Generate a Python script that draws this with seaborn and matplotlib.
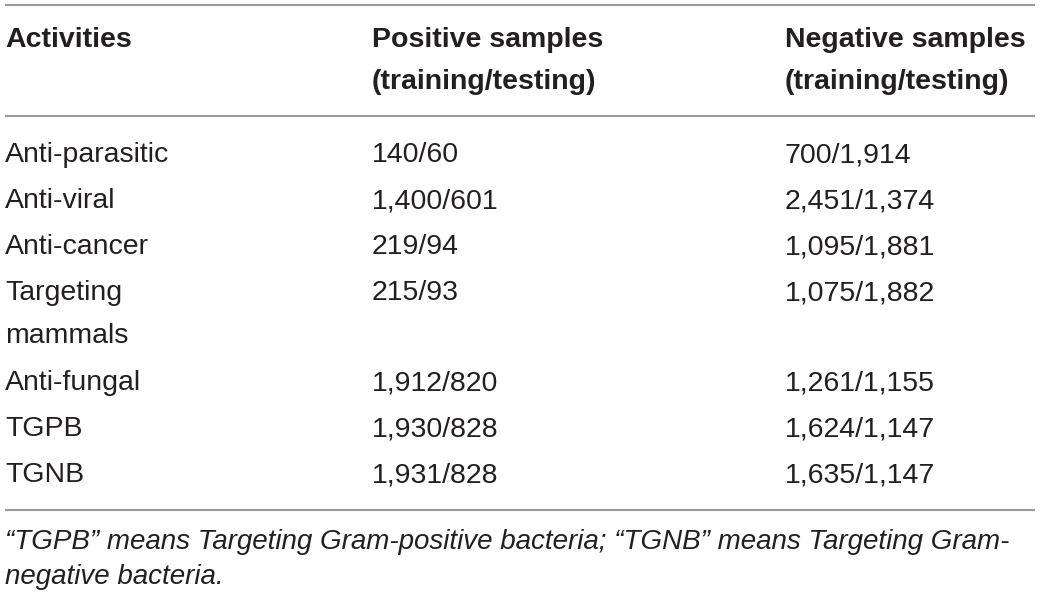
import seaborn as sns
import matplotlib.pyplot as plt

# table contents
activities = ["Anti-parasitic", "Anti-viral", "Anti-cancer", "Targeting\nmammals",
              "Anti-fungal", "TGPB", "TGNB"]
positive = ["140/60", "1,400/601", "219/94", "215/93", "1,912/820", "1,930/828", "1,931/828"]
negative = ["700/1,914", "2,451/1,374", "1,095/1,881", "1,075/1,882",
            "1,261/1,155", "1,624/1,147", "1,635/1,147"]
headers = ["Activities", "Positive samples\n(training/testing)", "Negative samples\n(training/testing)"]
footnote = ("\u201cTGPB\u201d means Targeting Gram-positive bacteria; \u201cTGNB\u201d means Targeting Gram-\n"
            "negative bacteria.")

sns.set_theme(style="white")
plt.rcParams["font.family"] = ["Liberation Sans", "DejaVu Sans"]

fig = plt.figure(figsize=(10.4, 5.97), dpi=100)
ax = fig.add_axes([0, 0, 1, 1])
ax.set_xlim(0, 1040)
ax.set_ylim(597, 0)
ax.axis("off")

col_x = [5, 372, 785]
fs = 20.5
text_color = "#231f20"
rule_color = "#9a9a9a"


def put_lines(x, y0, s, step, **kw):
    for i, line in enumerate(s.split("\n")):
        ax.text(x, y0 + i * step, line, va="baseline", ha="left",
                color=text_color, **kw)


# header
for x, h in zip(col_x, headers):
    put_lines(x, 47, h, 42, fontsize=fs, fontweight="bold")

# rules
for y in [5, 116, 510]:
    ax.plot([5, 1035], [y, y], color=rule_color, lw=1.5, solid_capstyle="butt")

# body rows
y = 162
for act, pos, neg in zip(activities, positive, negative):
    put_lines(col_x[0], y, act, 43, fontsize=fs)
    put_lines(col_x[1], y, pos, 43, fontsize=fs)
    put_lines(col_x[2], y, neg, 43, fontsize=fs)
    y += 46 + 44 * act.count("\n")

# footnote
put_lines(5, 549, footnote, 35, fontsize=20, style="italic")

fig.savefig("out.png", dpi=100)
plt.close()
